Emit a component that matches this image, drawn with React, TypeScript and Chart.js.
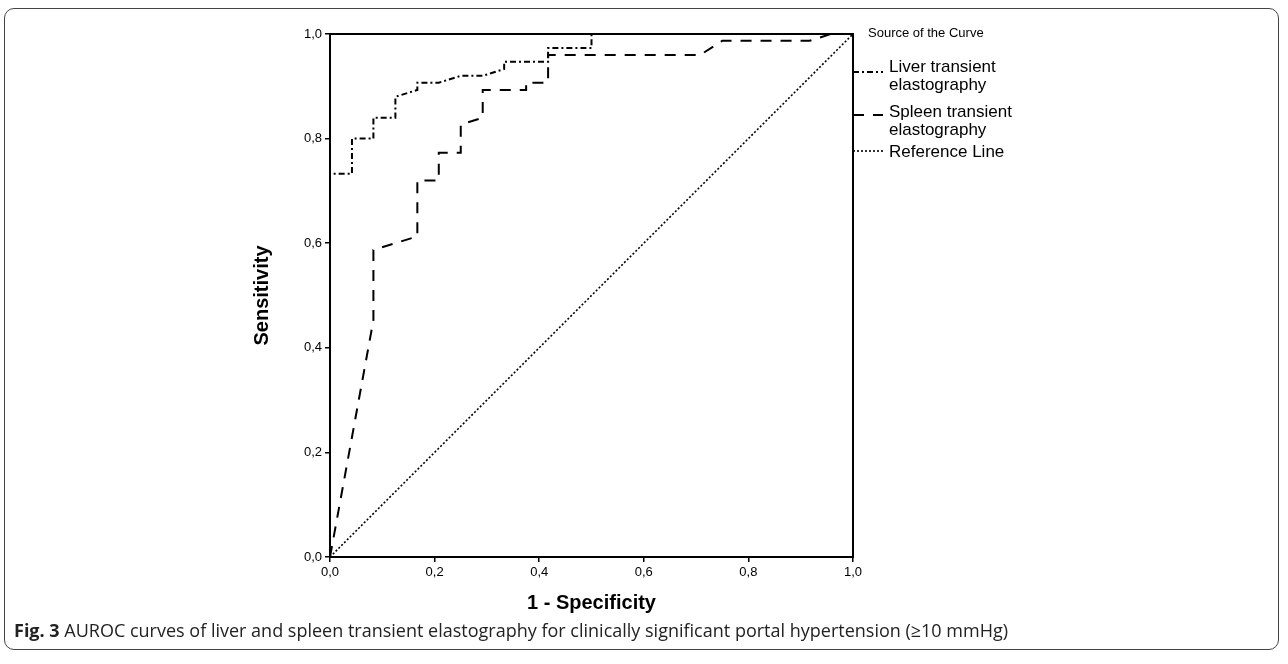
import React, { useEffect, useRef } from "react";
import { Chart, registerables } from "chart.js";

Chart.register(...registerables);

// ---- data ----
const liverFpr = [0, 0, 0.042, 0.042, 0.083, 0.083, 0.125, 0.125, 0.167, 0.167, 0.208, 0.25, 0.292, 0.333, 0.333, 0.417, 0.417, 0.5, 0.5, 1];
const liverTpr = [0, 0.733, 0.733, 0.8, 0.8, 0.84, 0.84, 0.88, 0.893, 0.907, 0.907, 0.92, 0.92, 0.933, 0.947, 0.947, 0.973, 0.973, 1, 1];

const spleenFpr = [0, 0.083, 0.083, 0.125, 0.167, 0.167, 0.208, 0.208, 0.25, 0.25, 0.292, 0.292, 0.375, 0.375, 0.417, 0.417, 0.708, 0.75, 0.917, 0.958, 1];
const spleenTpr = [0, 0.453, 0.587, 0.6, 0.613, 0.72, 0.72, 0.773, 0.773, 0.827, 0.84, 0.893, 0.893, 0.907, 0.907, 0.96, 0.96, 0.987, 0.987, 1, 1];

const refFpr = [0, 1];
const refTpr = [0, 1];

const tickLabels = ["0,0", "0,2", "0,4", "0,6", "0,8", "1,0"];
const xTitle = "1 - Specificity";
const yTitle = "Sensitivity";
const legendTitle = "Source of the Curve";
const legendLabels = [["Liver transient", "elastography"], ["Spleen transient", "elastography"], ["Reference Line"]];
const captionBold = "Fig. 3";
const captionText = " AUROC curves of liver and spleen transient elastography for clinically significant portal hypertension (\u226510 mmHg)";

const dashes = [[6, 3, 2, 3], [11, 9], [2, 2]];
const widths = [2, 2, 1.6];

const toPts = (xs: number[], ys: number[]) => xs.map((x, i) => ({ x, y: ys[i] }));

const FONT = "'Liberation Sans', Arial, sans-serif";

export default function App() {
  const ref = useRef<HTMLCanvasElement | null>(null);

  useEffect(() => {
    const canvas = ref.current;
    if (!canvas) return;

    const framePlugin = {
      id: "frameAndLegend",
      afterDatasetsDraw(chart: any) {
        const { ctx, chartArea } = chart;
        ctx.save();
        ctx.strokeStyle = "#000";
        ctx.lineWidth = 2;
        ctx.setLineDash([]);
        ctx.strokeRect(chartArea.left, chartArea.top, chartArea.right - chartArea.left, chartArea.bottom - chartArea.top);

        // legend
        const x0 = chartArea.right;
        ctx.fillStyle = "#000";
        ctx.textBaseline = "middle";
        ctx.font = `13px ${FONT}`;
        ctx.fillText(legendTitle, x0 + 15, chartArea.top - 1);
        const itemTop = [67, 112, 152];
        const sampleY = [72, 115, 151];
        ctx.font = `17px ${FONT}`;
        legendLabels.forEach((lines, i) => {
          ctx.save();
          ctx.strokeStyle = "#000";
          ctx.lineWidth = widths[i];
          ctx.setLineDash(dashes[i]);
          ctx.beginPath();
          ctx.moveTo(x0, sampleY[i]);
          ctx.lineTo(x0 + 30, sampleY[i]);
          ctx.stroke();
          ctx.restore();
          lines.forEach((t, j) => {
            ctx.fillText(t, x0 + 36, itemTop[i] + j * 18);
          });
        });
        ctx.restore();
      },
    };

    const mkDs = (label: string, data: any[], i: number) => ({
      label,
      data,
      showLine: true,
      borderColor: "#000",
      backgroundColor: "#000",
      borderWidth: widths[i],
      borderDash: dashes[i],
      pointRadius: 0,
      tension: 0,
      fill: false,
    });

    const chart = new Chart(canvas, {
      type: "scatter",
      data: {
        datasets: [
          mkDs(legendLabels[0].join(" "), toPts(liverFpr, liverTpr), 0),
          mkDs(legendLabels[1].join(" "), toPts(spleenFpr, spleenTpr), 1),
          mkDs(legendLabels[2].join(" "), toPts(refFpr, refTpr), 2),
        ],
      },
      options: {
        animation: false,
        responsive: false,
        devicePixelRatio: 1,
        layout: { padding: { top: 34, left: 0, right: 435, bottom: 25 } },
        plugins: { legend: { display: false }, tooltip: { enabled: false } },
        scales: {
          x: {
            type: "linear",
            min: 0,
            max: 1,
            afterFit: (s: any) => { s.height = 58; },
            ticks: {
              stepSize: 0.2,
              color: "#000",
              font: { family: FONT, size: 13 },
              padding: 3,
              maxRotation: 0,
              callback: (_v: any, i: number) => tickLabels[i],
            },
            grid: { drawOnChartArea: false, drawTicks: true, tickLength: 5, color: "#000", lineWidth: 1.5 },
            border: { display: true, color: "#000", width: 2 },
            title: { display: true, text: xTitle, color: "#000", font: { family: FONT, size: 20, weight: "bold" }, padding: 0 },
          },
          y: {
            type: "linear",
            min: 0,
            max: 1,
            afterFit: (s: any) => { s.width = 80; },
            ticks: {
              stepSize: 0.2,
              color: "#000",
              font: { family: FONT, size: 13 },
              padding: 3,
              callback: (_v: any, i: number) => tickLabels[i],
            },
            grid: { drawOnChartArea: false, drawTicks: true, tickLength: 5, color: "#000", lineWidth: 1.5 },
            border: { display: true, color: "#000", width: 2 },
            title: { display: true, text: yTitle, color: "#000", font: { family: FONT, size: 20, weight: "bold" }, padding: 0 },
          },
        },
      },
      plugins: [framePlugin],
    } as any);

    return () => chart.destroy();
  }, []);

  return (
    <div style={{ position: "absolute", left: 0, top: 0, width: 1288, height: 664, background: "#fff" }}>
      <div
        style={{
          position: "absolute",
          left: 4,
          top: 8,
          width: 1275,
          height: 642,
          border: "1.5px solid #444",
          borderRadius: 10,
          boxSizing: "border-box",
        }}
      />
      <canvas
        ref={ref}
        width={1038}
        height={640}
        style={{ position: "absolute", left: 250, top: 0, width: 1038, height: 640 }}
      />
      <div
        style={{
          position: "absolute",
          left: 14,
          top: 618,
          fontFamily: "'Open Sans', 'Noto Sans', sans-serif",
          fontSize: 18,
          lineHeight: "24px",
          color: "#222",
          whiteSpace: "nowrap",
        }}
      >
        <b>{captionBold}</b>
        {captionText}
      </div>
    </div>
  );
}
